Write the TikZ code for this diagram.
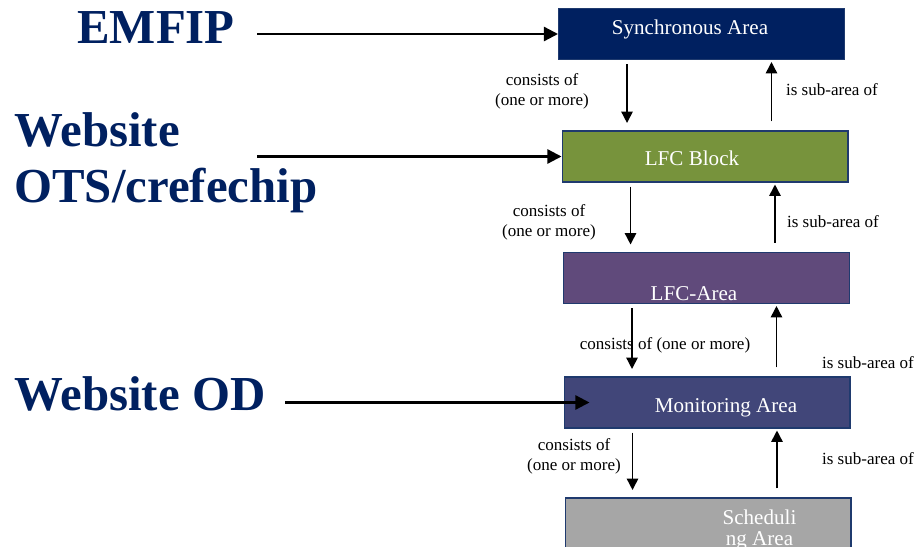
\documentclass[tikz,border=0pt]{standalone}
\usepackage{fontspec}
\setmainfont{Liberation Serif}
\usetikzlibrary{arrows.meta}

\definecolor{navy}{HTML}{002060}
\definecolor{lfcgreen}{HTML}{77933C}
\definecolor{lfcpurple}{HTML}{604A7B}
\definecolor{monblue}{HTML}{414679}
\definecolor{schedgrey}{HTML}{A6A6A6}
\definecolor{boxline}{HTML}{1F3A6E}

\begin{document}
\begin{tikzpicture}[
    x=0.02cm, y=-0.02cm,
    box/.style={draw=boxline,line width=0.6pt,minimum width=5.72cm,minimum height=1.02cm,inner sep=0pt},
    boxtext/.style={text=white,font=\fontsize{12}{11.5}\selectfont,align=center,anchor=base},
    source/.style={text=navy,font=\fontsize{27.8}{32}\selectfont\bfseries,align=left,anchor=base west,inner sep=0pt},
    note/.style={font=\fontsize{9.7}{11.3}\selectfont,align=center,inner sep=0pt},
    feed/.style={draw,line width=1.3pt,-{Triangle[length=8pt,width=8pt]}},
    consist/.style={draw,line width=0.9pt,-{Triangle[length=6.5pt,width=6.5pt]},shorten <=0.08cm,shorten >=0.15cm},
    subarea/.style={draw,line width=0.9pt,-{Triangle[length=6.5pt,width=6.5pt]},shorten <=0.18cm,shorten >=0.04cm}]
  \clip (0,0) rectangle (919,547);
  % the area boxes
  \node[box,fill=navy] (sync) at (701.5,34) {};
  \node[boxtext] (synctext) at (690,35) {Synchronous Area};
  \node[box,fill=lfcgreen] (lfcblock) at (705,156.5) {};
  \node[boxtext] (lfcblocktext) at (692,166) {LFC Block};
  \node[box,fill=lfcpurple] (lfcarea) at (706.5,278) {};
  \node[boxtext] (lfcareatext) at (694,300) {LFC-Area};
  \node[box,fill=monblue] (monitor) at (707,402.5) {};
  \node[boxtext] (monitortext) at (726,412) {Monitoring Area};
  \node[box,fill=schedgrey,minimum height=1.4cm] (sched) at (708,533) {};
  \node[boxtext] (schedtext) at (759.5,545) {Scheduli\\ng Area};
  % publication sources
  \node[source] (emfip) at (77,44) {EMFIP};
  \node[source] (ots) at (14,203) {Website\\OTS/crefechip};
  \node[source] (od) at (14,410) {Website OD};
  \coordinate (emfipout) at (257,34);
  \coordinate (otsout) at (257,156.5);
  \coordinate (odout) at (285,402.5);
  \draw[feed] (emfipout) -- (sync.west);
  \draw[feed] (otsout) -- (lfcblock.west);
  \draw[feed] (odout) -- ([xshift=0.52cm]monitor.west);
  % consists of / is sub-area of
  \draw[consist] ([xshift=-1.49cm]sync.south) -- ([xshift=-1.49cm]sync.south |- lfcblock.north);
  \draw[subarea] ([xshift=1.4cm]sync.south |- lfcblock.north) -- ([xshift=1.4cm]sync.south);
  \draw[consist] ([xshift=-1.49cm]lfcblock.south) -- ([xshift=-1.49cm]lfcblock.south |- lfcarea.north);
  \draw[subarea] ([xshift=1.4cm]lfcblock.south |- lfcarea.north) -- ([xshift=1.4cm]lfcblock.south);
  \draw[consist] ([xshift=-1.49cm]lfcarea.south) -- ([xshift=-1.49cm]lfcarea.south |- monitor.north);
  \draw[subarea] ([xshift=1.4cm]lfcarea.south |- monitor.north) -- ([xshift=1.4cm]lfcarea.south);
  \draw[consist] ([xshift=-1.49cm]monitor.south) -- ([xshift=-1.49cm]monitor.south |- sched.north);
  \draw[subarea] ([xshift=1.4cm]monitor.south |- sched.north) -- ([xshift=1.4cm]monitor.south);
  \node[note] (cons1) at (542,91) {consists of\\(one or more)};
  \node[note] (sub1) at (832,90) {is sub-area of};
  \node[note] (cons2) at (549,222) {consists of\\(one or more)};
  \node[note] (sub2) at (833,222) {is sub-area of};
  \node[note] (cons3) at (665,345) {consists of (one or more)};
  \node[note] (sub3) at (868,363) {is sub-area of};
  \node[note] (cons4) at (574,456) {consists of\\(one or more)};
  \node[note] (sub4) at (868,459) {is sub-area of};
\end{tikzpicture}
\end{document}
